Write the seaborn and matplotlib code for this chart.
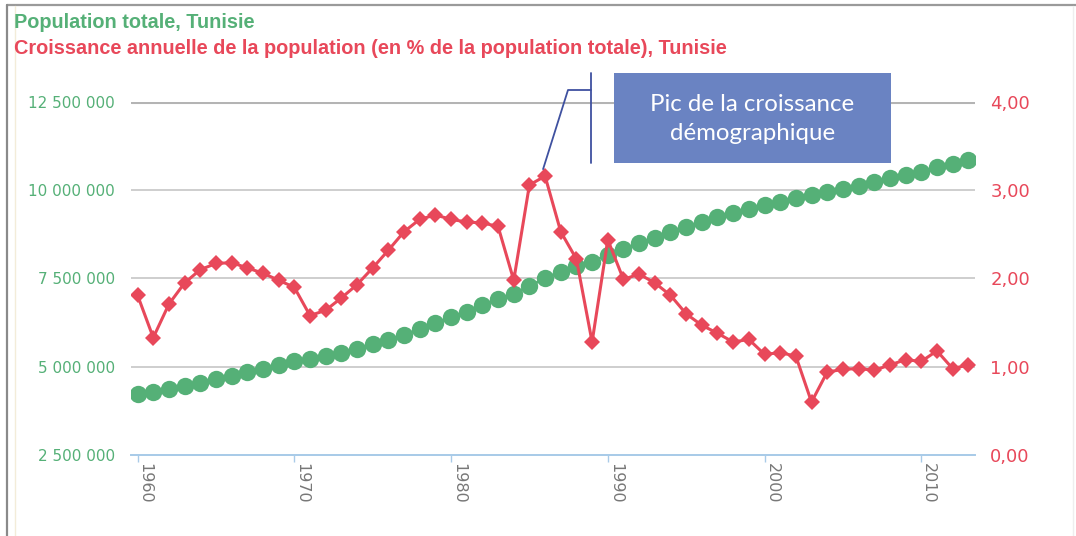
import matplotlib
matplotlib.use("Agg")
import matplotlib.pyplot as plt
import seaborn as sns
import pandas as pd
from matplotlib.patches import Rectangle
from matplotlib.lines import Line2D

# data
years = list(range(1960, 2014))

population = [4.22, 4.29, 4.37, 4.45, 4.55, 4.64, 4.75, 4.85, 4.94, 5.05,
              5.15, 5.22, 5.30, 5.40, 5.50, 5.64, 5.75, 5.91, 6.06, 6.23,
              6.40, 6.56, 6.75, 6.91, 7.05, 7.28, 7.51, 7.69, 7.85, 7.98,
              8.17, 8.33, 8.50, 8.66, 8.83, 8.97, 9.09, 9.23, 9.35, 9.46,
              9.58, 9.68, 9.79, 9.86, 9.94, 10.04, 10.13, 10.23, 10.34, 10.43,
              10.53, 10.65, 10.75, 10.87]
population = [p * 1e6 for p in population]

growth = [1.81, 1.33, 1.71, 1.95, 2.10, 2.17, 2.18, 2.12, 2.06, 1.98,
          1.90, 1.58, 1.64, 1.78, 1.93, 2.12, 2.32, 2.53, 2.67, 2.72,
          2.67, 2.64, 2.63, 2.59, 1.98, 3.06, 3.16, 2.53, 2.22, 1.28,
          2.44, 1.99, 2.05, 1.95, 1.81, 1.60, 1.47, 1.38, 1.28, 1.31,
          1.14, 1.16, 1.12, 0.60, 0.94, 0.97, 0.98, 0.96, 1.02, 1.08,
          1.06, 1.18, 0.98, 1.02]

left_ticks = [2500000, 5000000, 7500000, 10000000, 12500000]
right_ticks = [0, 1, 2, 3, 4]
x_ticks = [1960, 1970, 1980, 1990, 2000, 2010]

title_pop = "Population totale, Tunisie"
title_growth = "Croissance annuelle de la population (en % de la population totale), Tunisie"
note = "Pic de la croissance\ndémographique"

GREEN = "#55b077"
RED = "#e8485a"
W, H = 1076, 536

df = pd.DataFrame({"year": years, "pop": population, "growth": growth})

sns.set_theme(style="white")
plt.rcParams["font.family"] = ["DejaVu Sans"]

fig = plt.figure(figsize=(W / 100, H / 100), dpi=100)
ax = fig.add_axes([131 / W, 1 - 455 / H, (975 - 131) / W, (455 - 102) / H])
ax2 = ax.twinx()

# population (left axis)
sns.lineplot(data=df, x="year", y="pop", ax=ax, color=GREEN, marker="o",
             markersize=12.5, markeredgewidth=0, linewidth=2)
ax.set_ylim(2500000, 12500000)
ax.set_xlim(1959.58, 2013.43)
ax.set_yticks(left_ticks)
ax.set_yticklabels([f"{v:,}".replace(",", " ") for v in left_ticks])
for v in left_ticks[1:4]:
    ax.axhline(v, color="#c6c6c6", lw=1.2, zorder=0)
ax.axhline(12500000, color="#b4b4b4", lw=2.2, zorder=0)
ax.tick_params(axis="y", length=0, pad=11.5, labelsize=11, labelcolor=GREEN)
ax.set_xticks(x_ticks)
ax.set_xticklabels([str(x) for x in x_ticks], rotation=270, ha="left", va="top")
ax.tick_params(axis="x", length=5, width=1, color="#a9cbe8", pad=1,
               labelsize=11.5, labelcolor="#777777", bottom=True)
ax.set_xlabel("")
ax.set_ylabel("")

# growth (right axis)
sns.lineplot(data=df, x="year", y="growth", ax=ax2, color=RED, marker="D",
             markersize=8.5, markeredgewidth=0, linewidth=2.2)
ax2.set_ylim(0, 4)
ax2.set_yticks(right_ticks)
ax2.set_yticklabels([f"{v:.2f}".replace(".", ",") for v in right_ticks])
ax2.tick_params(axis="y", length=0, pad=11, labelsize=13, labelcolor=RED)
ax2.set_ylabel("")

for a in (ax, ax2):
    for s in ("top", "left", "right"):
        a.spines[s].set_visible(False)
    a.spines["bottom"].set_color("#a9cbe8")
    a.spines["bottom"].set_linewidth(1.3)

# titles
fig.text(14 / W, 1 - 23 / H, title_pop, color=GREEN, fontsize=14.3,
         fontweight="bold", family="Liberation Sans", va="center")
fig.text(14 / W, 1 - 49 / H, title_growth, color=RED, fontsize=14.3,
         fontweight="bold", family="Liberation Sans", va="center")

# callout box
fig.add_artist(Rectangle((614 / W, 1 - 163 / H), 277 / W, 90 / H,
                         transform=fig.transFigure, facecolor="#6a83c2",
                         edgecolor="none", zorder=5))
fig.text((614 + 277 / 2) / W, 1 - 119 / H, note, color="white", fontsize=17.3,
         family="Lato", ha="center", va="center", linespacing=1.45, zorder=6)

peak = growth.index(max(growth))
px, py = ax2.transData.transform((years[peak], growth[peak]))
inv = fig.transFigure.inverted()
sx, sy = inv.transform((px - 2, py + 7))
fig.add_artist(Line2D([sx, 568 / W, 591 / W], [sy, 1 - 90 / H, 1 - 90 / H],
                      transform=fig.transFigure, color="#3f51a0", lw=1.3, zorder=6))
fig.add_artist(Line2D([591 / W, 591 / W], [1 - 73 / H, 1 - 163 / H],
                      transform=fig.transFigure, color="#3f51a0", lw=1.3, zorder=6))

# outer frame
fig.add_artist(Line2D([7 / W, 1], [1 - 5 / H, 1 - 5 / H], transform=fig.transFigure,
                      color="#9a9a9a", lw=1.6))
fig.add_artist(Line2D([7 / W, 7 / W], [0, 1 - 5 / H], transform=fig.transFigure,
                      color="#8a8a8a", lw=1.6))
fig.add_artist(Line2D([15 / W, 15 / W], [0, 1 - 6 / H], transform=fig.transFigure,
                      color="#f3ecd9", lw=1))
fig.add_artist(Line2D([1073 / W, 1073 / W], [0, 1 - 6 / H], transform=fig.transFigure,
                      color="#eeeeee", lw=1))

fig.savefig("out.png", dpi=100)
